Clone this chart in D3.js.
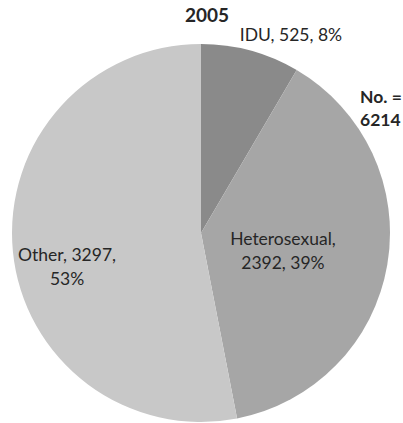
<!DOCTYPE html>
<html>
<head>
<meta charset="utf-8">
<script src="https://cdn.jsdelivr.net/npm/d3@7"></script>
<style>
  html, body { margin: 0; padding: 0; background: #fff; }
  svg { display: block; }
  text { font-family: Lato, "Open Sans", sans-serif; fill: #262626; }
</style>
</head>
<body>
<svg id="chart" width="403" height="423"></svg>
<script>
// Transmission categories for 2005 and their case counts
const categories = ["IDU", "Heterosexual", "Other"];
const counts = [525, 2392, 3297];
const percents = [8, 39, 53];
const year = "2005";
const totalLabel = ["No. =", "6214"];

const width = 403, height = 423;
const cx = 201, cy = 233, radius = 189;

const svg = d3.select("#chart");

const color = d3.scaleOrdinal()
  .domain(categories)
  .range(["#8a8a8a", "#a6a6a6", "#c8c8c8"]);

const pie = d3.pie().sort(null).value(d => d.count);
const data = categories.map((c, i) => ({ name: c, count: counts[i], pct: percents[i] }));
const arcs = pie(data);

const arc = d3.arc().innerRadius(0).outerRadius(radius);

const g = svg.append("g").attr("transform", `translate(${cx},${cy})`);

g.selectAll("path")
  .data(arcs)
  .join("path")
  .attr("d", arc)
  .attr("fill", d => color(d.data.name));

// Label placement per slice: radius factor and angular nudge (radians)
const labelLayout = {
  "IDU":          { r: 1.151, da: 0.161, lines: d => [`${d.name}, ${d.count}, ${d.pct}%`] },
  "Heterosexual": { r: 0.444, da: 0.047, lines: d => [`${d.name},`, `${d.count}, ${d.pct}%`] },
  "Other":        { r: 0.731, da: -0.152, lines: d => [`${d.name}, ${d.count},`, `${d.pct}%`] }
};

const fontSize = 17.5, lineHeight = 24.5;

arcs.forEach(a => {
  const L = labelLayout[a.data.name];
  const mid = (a.startAngle + a.endAngle) / 2 + L.da;
  const r = radius * L.r;
  const x = r * Math.sin(mid);
  const y = -r * Math.cos(mid);
  const lines = L.lines(a.data);
  const t = g.append("text")
    .attr("text-anchor", "middle")
    .attr("font-size", fontSize);
  lines.forEach((s, i) => {
    t.append("tspan")
      .attr("x", x)
      .attr("y", y + (i - (lines.length - 1) / 2) * lineHeight + 6)
      .text(s);
  });
});

// Title
svg.append("text")
  .attr("x", 207).attr("y", 22)
  .attr("text-anchor", "middle")
  .attr("font-size", 19)
  .attr("font-weight", "bold")
  .attr("fill", "#111")
  .text(year);

// Total annotation
const tot = svg.append("text")
  .attr("font-size", 17.5)
  .attr("font-weight", "bold")
  .attr("fill", "#111");
totalLabel.forEach((s, i) => {
  tot.append("tspan").attr("x", 360).attr("y", 103 + i * 23).text(s);
});
</script>
</body>
</html>
